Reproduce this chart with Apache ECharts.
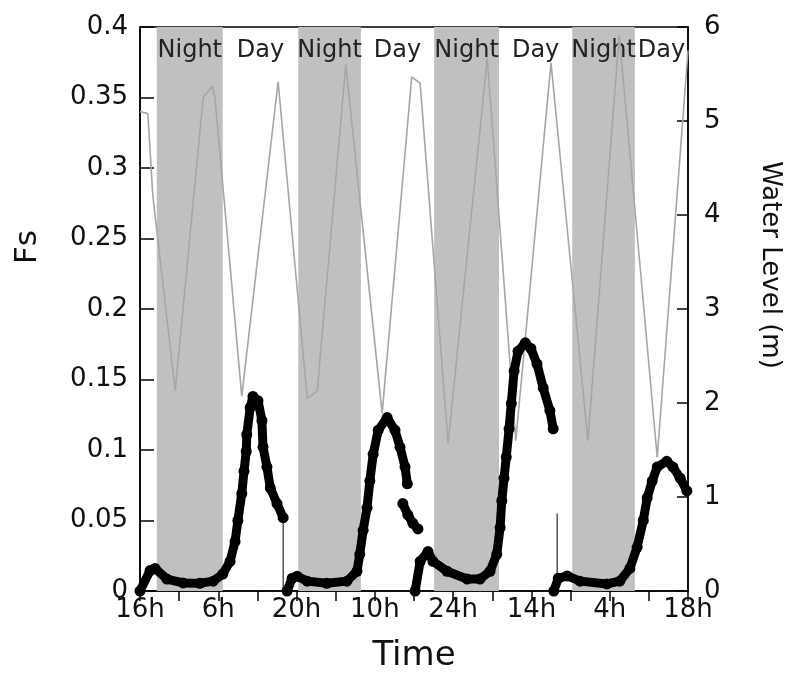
<!DOCTYPE html>
<html>
<head>
<meta charset="utf-8">
<script src="https://cdn.jsdelivr.net/npm/echarts@6/dist/echarts.min.js"></script>
<style>
  html, body { margin: 0; padding: 0; background: #fff; }
  #chart { width: 796px; height: 686px; }
</style>
</head>
<body>
<div id="chart"></div>
<script>
// time axis in hours from the first tick (16h), one major tick every 14 h
let xTickLabels = ['16h', '6h', '20h', '10h', '24h', '14h', '4h', '18h']

// night periods (start / end, hours)
let nightStart = [3.0, 28.3, 52.6, 77.3]
let nightEnd = [14.8, 39.5, 64.2, 88.5]
let dayStart = [14.8, 39.5, 64.2, 88.5]
let dayEnd = [28.3, 52.6, 77.3, 98]

// water level (m), right axis
let waterHours = [0, 1.4, 2.3, 6.3, 11.3, 12.9, 13.4, 18.2, 24.7, 29.9, 31.7, 36.8, 43.3, 48.6, 50.1,
  55.1, 62.1, 67.2, 73.5, 80.1, 85.7, 92.5, 98]
let waterLevel = [5.1, 5.08, 4.2, 2.13, 5.25, 5.37, 5.25, 2.07, 5.42, 2.05, 2.13, 5.6, 1.89, 5.47, 5.4,
  1.57, 5.67, 1.6, 5.62, 1.6, 5.92, 1.42, 5.75]

// Fs, left axis (null = gap in the record)
let fsHours = [
  0, 1.8, 2.7, 4.8, 7.7, 10.7, 13.1, 14.8, 16.1, 17.0, 17.5, 18.2, 18.6, 19.0, 19.1, 19.7, 20.2,
  21.1, 21.8, 22.0, 22.7, 23.3, 24.5, 25.6, null,
  26.3, 27.2, 28.1, 29.9, 33.4, 37.0, 38.8, 39.3, 39.9, 40.6, 41.1, 41.7, 42.6, 44.2, 45.6, 46.5,
  47.4, 47.8, null,
  47.0, 47.9, 48.8, 49.7, null,
  49.2, 50.1, 51.5, 52.4, 54.9, 58.5, 60.8, 62.6, 63.8, 64.4, 64.7, 65.1, 65.5, 66.0, 66.4, 66.9,
  67.6, 68.9, 69.9, 71.0, 72.1, 73.3, 73.9, null,
  74.0, 74.8, 76.4, 78.7, 83.5, 85.8, 87.6, 88.9, 90.0, 90.7, 91.6, 92.5, 94.2, 95.3, 96.6, 97.8
]
let fsValues = [
  0, 0.0145, 0.016, 0.0085, 0.0057, 0.0055, 0.007, 0.012, 0.021, 0.035, 0.05, 0.069, 0.085, 0.099,
  0.111, 0.13, 0.138, 0.135, 0.121, 0.102, 0.088, 0.073, 0.062, 0.052, null,
  0, 0.009, 0.0105, 0.007, 0.0055, 0.007, 0.014, 0.026, 0.043, 0.059, 0.078, 0.097, 0.114, 0.123,
  0.114, 0.102, 0.088, 0.076, null,
  0.062, 0.054, 0.048, 0.044, null,
  0, 0.021, 0.028, 0.021, 0.014, 0.0085, 0.0085, 0.014, 0.026, 0.045, 0.064, 0.08, 0.095, 0.115,
  0.133, 0.156, 0.17, 0.176, 0.172, 0.161, 0.144, 0.128, 0.115, null,
  0, 0.009, 0.0107, 0.007, 0.005, 0.007, 0.016, 0.031, 0.05, 0.066, 0.078, 0.088, 0.092, 0.088,
  0.08, 0.071
]

// thin vertical drops at the record joins
let dropHours = [25.6, 74.6]
let dropTop = [0.052, 0.055]

let font = 'DejaVu Sans'

let chart = echarts.init(document.getElementById('chart'))

let areas = []
nightStart.forEach((s, i) => {
  areas.push([{ name: 'Night', xAxis: s, itemStyle: { color: '#c0c0c0' } }, { xAxis: nightEnd[i] }])
})
dayStart.forEach((s, i) => {
  areas.push([{ name: 'Day', xAxis: s, itemStyle: { color: 'rgba(255,255,255,0)' } }, { xAxis: dayEnd[i] }])
})

let fsData = fsHours.map((h, i) => h === null ? [fsHours[i - 1], null] : [h, fsValues[i]])
let waterData = waterHours.map((h, i) => [h, waterLevel[i]])
let dropData = []
dropHours.forEach((h, i) => {
  dropData.push([h, dropTop[i]], [h, 0], [h, null])
})

let option = {
  animation: false,
  backgroundColor: '#fff',
  grid: {
    left: 140,
    right: 108,
    top: 27,
    bottom: 95,
    show: true,
    borderColor: '#000',
    borderWidth: 1.5,
    backgroundColor: 'transparent'
  },
  xAxis: {
    type: 'value',
    min: 0,
    max: 98,
    interval: 14,
    name: 'Time',
    nameLocation: 'middle',
    nameGap: 48,
    nameTextStyle: { fontFamily: font, fontSize: 34, color: '#111' },
    axisLine: { show: true, onZero: false, lineStyle: { color: '#000', width: 1.5 } },
    axisTick: { show: true, inside: false, length: 10, lineStyle: { color: '#000', width: 1.5 } },
    minorTick: { show: true, splitNumber: 2, length: 10, lineStyle: { color: '#000', width: 1.5 } },
    splitLine: { show: false },
    axisLabel: {
      margin: 6,
      fontFamily: font,
      fontSize: 26,
      color: '#111',
      formatter (v) {
        return xTickLabels[Math.round(v / 14)]
      }
    }
  },
  yAxis: [{
    type: 'value',
    min: 0,
    max: 0.4,
    interval: 0.05,
    position: 'left',
    axisLine: { show: true, lineStyle: { color: '#000', width: 1.5 } },
    axisTick: { show: true, inside: true, length: 14, lineStyle: { color: '#000', width: 1.5 } },
    splitLine: { show: false },
    axisLabel: {
      margin: 12,
      fontFamily: font,
      fontSize: 26,
      color: '#111',
      formatter (v) {
        return String(+v.toFixed(2))
      }
    }
  }, {
    type: 'value',
    min: 0,
    max: 6,
    interval: 1,
    position: 'right',
    axisLine: { show: true, lineStyle: { color: '#000', width: 1.5 } },
    axisTick: { show: true, inside: true, length: 11, lineStyle: { color: '#000', width: 1.5 } },
    splitLine: { show: false },
    axisLabel: {
      margin: 16,
      fontFamily: font,
      fontSize: 26,
      color: '#111'
    }
  }],
  graphic: [{
    type: 'text',
    x: 28,
    y: 247,
    rotation: Math.PI / 2,
    style: { text: 'Fs', fontFamily: font, fontSize: 31, fill: '#111', align: 'center', verticalAlign: 'middle' }
  }, {
    type: 'text',
    x: 770,
    y: 265,
    rotation: -Math.PI / 2,
    style: { text: 'Water Level (m)', fontFamily: font, fontSize: 26, fill: '#111', align: 'center', verticalAlign: 'middle' }
  }],
  series: [{
    name: 'periods',
    type: 'line',
    data: [],
    z: 1,
    markArea: {
      silent: true,
      label: {
        show: true,
        position: 'insideTop',
        distance: 12,
        fontFamily: font,
        fontSize: 24,
        color: '#222'
      },
      data: areas
    }
  }, {
    name: 'Water Level',
    type: 'line',
    yAxisIndex: 1,
    data: waterData,
    symbol: 'none',
    z: 3,
    lineStyle: { color: '#a6a6a6', width: 1.6 }
  }, {
    name: 'Fs',
    type: 'line',
    yAxisIndex: 0,
    data: fsData,
    connectNulls: false,
    symbol: 'circle',
    symbolSize: 11,
    showAllSymbol: true,
    z: 4,
    itemStyle: { color: '#000' },
    lineStyle: { color: '#000', width: 9, cap: 'round', join: 'round' }
  }, {
    name: 'joins',
    type: 'line',
    yAxisIndex: 0,
    data: dropData,
    connectNulls: false,
    symbol: 'none',
    z: 4,
    lineStyle: { color: '#000', width: 1 }
  }]
}

chart.setOption(option)
</script>
</body>
</html>
